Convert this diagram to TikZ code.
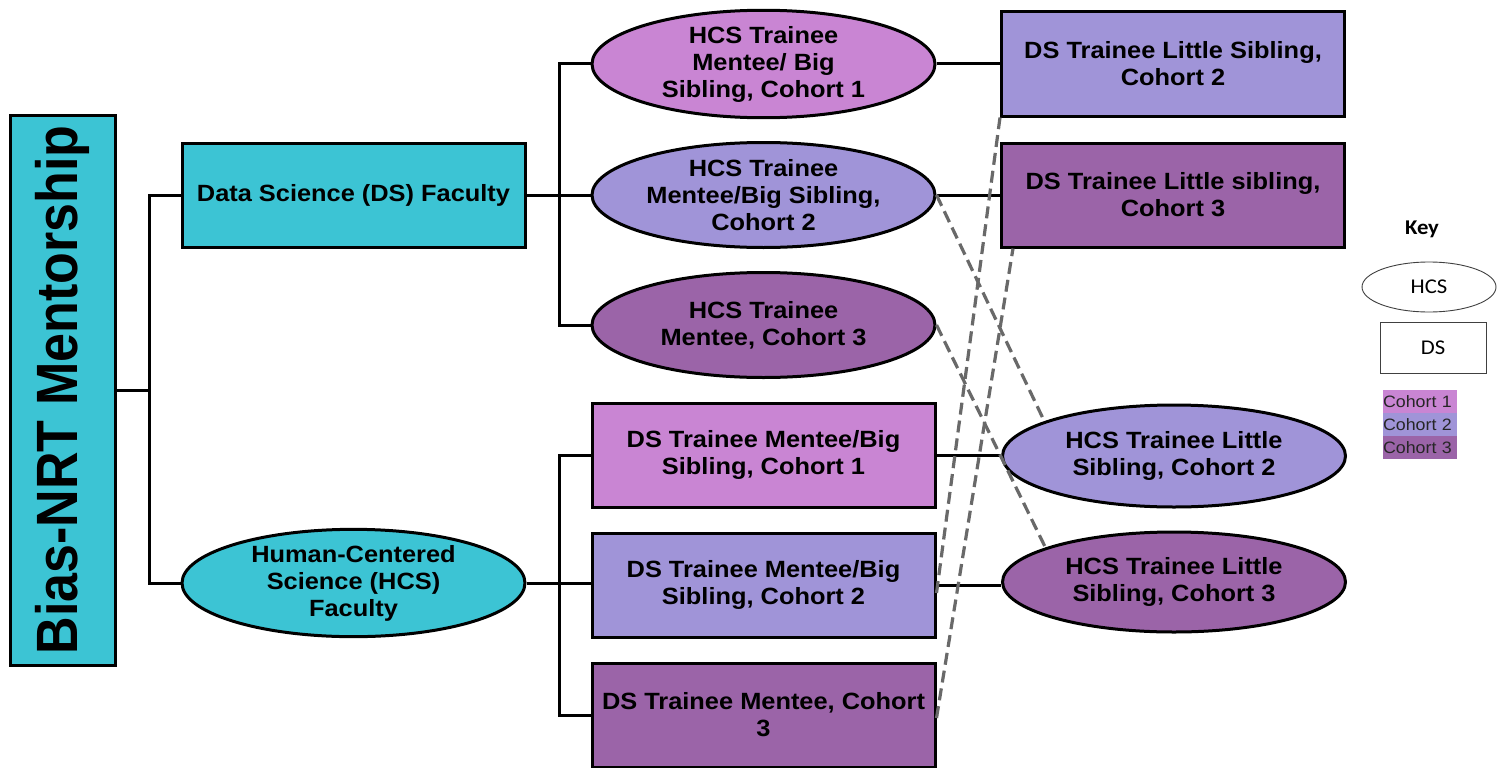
\documentclass[tikz,border=0pt]{standalone}
\usepackage{fontspec}
\setmainfont{Liberation Sans}
\newfontfamily\labfont{Liberation Sans}[FakeStretch=1.08]
\newfontfamily\keyfont{Carlito}[FakeStretch=1.08]
\usetikzlibrary{shapes.geometric,calc}
\definecolor{teal1}{RGB}{60,196,212}
\definecolor{coh1}{RGB}{201,133,211}
\definecolor{coh2}{RGB}{160,148,216}
\definecolor{coh3}{RGB}{155,100,168}
\definecolor{dashgray}{RGB}{105,105,105}
\tikzset{
  box/.style={draw=black, line width=3pt, rectangle, minimum width=343pt, minimum height=104pt, inner sep=0pt, align=center, font=\labfont\fontsize{23.5}{27}\selectfont\bfseries},
  oval/.style={draw=black, line width=3pt, ellipse, minimum width=343pt, minimum height=105pt, inner sep=0pt, align=center, font=\labfont\fontsize{23.5}{27}\selectfont\bfseries},
  link/.style={draw=black, line width=3pt},
  dlink/.style={draw=dashgray, line width=3.2pt, dash pattern=on 12pt off 6pt},
  keytxt/.style={fill=#1, text=black!85, inner sep=0pt, minimum height=23pt, text width=74pt, align=left, font=\labfont\fontsize{16.5}{19}\selectfont}
}
\begin{document}
\begin{tikzpicture}[x=1pt,y=-1pt]
\useasboundingbox[fill=white] (0,0) rectangle (1504,768);
% root
\node[draw=black, line width=3pt, fill=teal1, minimum width=105pt, minimum height=550pt, inner sep=0pt] (bias) at (62.5,390) {};
\node[rotate=90, font=\fontsize{52}{56}\selectfont\bfseries] (biastxt) at (bias.center) {\scalebox{1}[1.12]{Bias-NRT Mentorship}};
% faculty
\node[box, fill=teal1] (dsf) at (353.5,195) {Data Science (DS) Faculty};
\node[oval, fill=teal1] (hcsf) at (353.5,583) {Human-Centered\\Science (HCS)\\Faculty};
% HCS mentees
\node[oval, fill=coh1] (hcs1) at (763.5,64) {HCS Trainee\\Mentee/ Big\\Sibling, Cohort 1};
\node[oval, fill=coh2] (hcs2) at (763.5,195) {HCS Trainee\\Mentee/Big Sibling,\\Cohort 2};
\node[oval, fill=coh3] (hcs3) at (763.5,325) {HCS Trainee\\Mentee, Cohort 3};
% DS mentees
\node[box, fill=coh1] (dsm1) at (763.5,455) {DS Trainee Mentee/Big\\Sibling, Cohort 1};
\node[box, fill=coh2] (dsm2) at (763.5,585) {DS Trainee Mentee/Big\\Sibling, Cohort 2};
\node[box, fill=coh3] (dsm3) at (763.5,715) {DS Trainee Mentee, Cohort\\3};
% little siblings
\node[box, fill=coh2] (dsl2) at (1173,64) {DS Trainee Little Sibling,\\Cohort 2};
\node[box, fill=coh3] (dsl3) at (1173,195) {DS Trainee Little sibling,\\Cohort 3};
\node[oval, fill=coh2, minimum height=102pt] (hcsl2) at (1174,456) {HCS Trainee Little\\Sibling, Cohort 2};
\node[oval, fill=coh3, minimum height=100pt] (hcsl3) at (1174,582) {HCS Trainee Little\\Sibling, Cohort 3};
% tree connectors
\draw[link] (bias.east) -- ++(33,0) |- (dsf.west);
\draw[link] (bias.east) -- ++(33,0) |- (hcsf.west);
\draw[link] (dsf.east) -- ++(33,0) |- (hcs1.west);
\draw[link] (dsf.east) -- (hcs2.west);
\draw[link] (dsf.east) -- ++(33,0) |- (hcs3.west);
\draw[link] (hcsf.east) -- ++(33,0) |- (dsm1.west);
\draw[link] (hcsf.east) -- (hcsf.east -| dsm2.west);
\draw[link] (hcsf.east) -- ++(33,0) |- (dsm3.west);
% pairings
\draw[link] (hcs1.east) -- (dsl2.west);
\draw[link] (hcs2.east) -- (dsl3.west);
\draw[link] (dsm1.east) -- (dsm1.east -| hcsl2.west);
\draw[link] (dsm2.east) -- (dsm2.east -| hcsl3.west);
% dashed pairings
\draw[dlink] (hcs2.east) -- (hcsl2.165);
\draw[dlink] (hcs3.east) -- (hcsl3.165);
\draw[dlink] ([yshift=-8pt]dsm2.east) -- (dsl2.south west);
\draw[dlink] ([yshift=-3pt]dsm3.east) -- ([xshift=13pt]dsl3.south west);
% key
\node[font=\keyfont\fontsize{21}{24}\selectfont\bfseries] (keyt) at (1422,229) {Key};
\node[draw=black!75, line width=0.9pt, ellipse, minimum width=134pt, minimum height=50pt, inner sep=0pt, font=\keyfont\fontsize{21}{24}\selectfont] (keyh) at (1429,287) {HCS};
\node[draw=black!75, line width=0.9pt, rectangle, minimum width=106pt, minimum height=51pt, inner sep=0pt, font=\keyfont\fontsize{21}{24}\selectfont] (keyd) at (1433,348) {DS};
\node[keytxt=coh1] (k1) at (1420,401.5) {Cohort 1};
\node[keytxt=coh2] (k2) at (1420,424.5) {Cohort 2};
\node[keytxt=coh3] (k3) at (1420,447.5) {Cohort 3};
\end{tikzpicture}
\end{document}
